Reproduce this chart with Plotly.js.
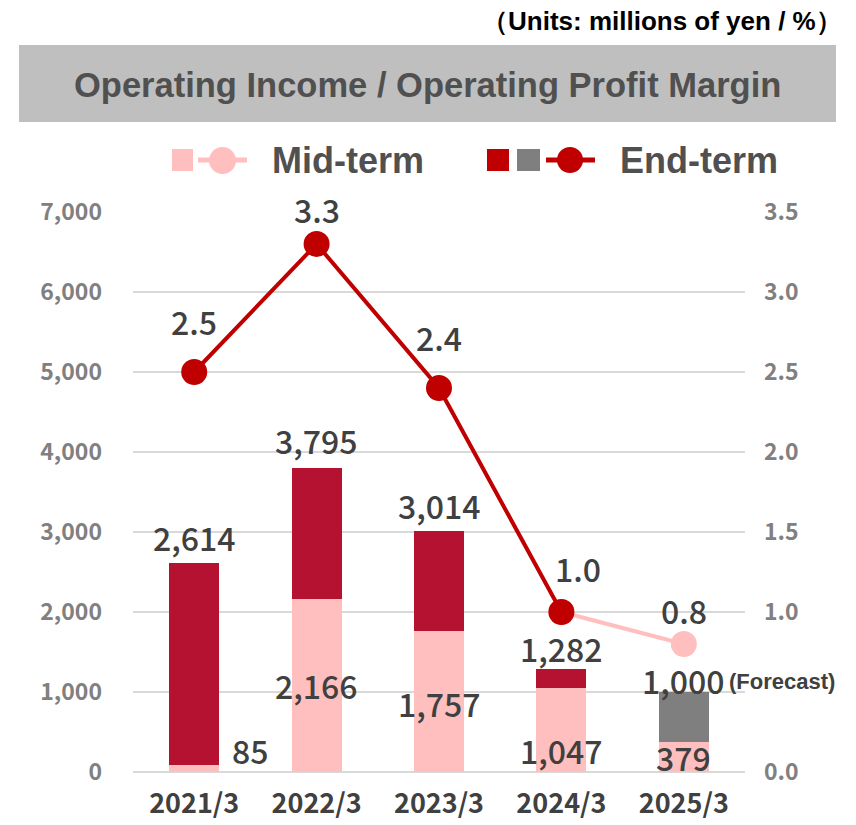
<!DOCTYPE html>
<html>
<head>
<meta charset="utf-8">
<script src="https://cdn.plot.ly/plotly-3.0.1.min.js"></script>
<style>html,body{margin:0;padding:0;background:#fff;}#chart{width:856px;height:825px;}</style>
</head>
<body>
<div id="chart"></div>
<script>
// ---- data ----
const categories = ["2021/3", "2022/3", "2023/3", "2024/3", "2025/3"];
const midIncome = [85, 2166, 1757, 1047, 379];          // mid-term operating income
const totalIncome = [2614, 3795, 3014, 1282, 1000];     // end-term (full-year) operating income
const forecastFlag = [false, false, false, false, true];
const endMarginCats = ["2021/3", "2022/3", "2023/3", "2024/3"];
const endMargin = [2.5, 3.3, 2.4, 1.0];
const midMarginCats = ["2024/3", "2025/3"];
const midMargin = [1.0, 0.8];
const leftTicks = [0, 1000, 2000, 3000, 4000, 5000, 6000, 7000];
const rightTicks = [0, 1.0, 1.5, 2.0, 2.5, 3.0, 3.5];   // 0.5 is hidden behind the forecast note

// ---- layout helpers ----
const W = 856, H = 825, L = 133, R = 745, T = 212, B = 772;
const px = x => (x - L) / (R - L);
const py = y => (B - y) / (B - T);

const PINK = "#FFBFBF", CRIMSON = "#B51232", GREY = "#7F7F7F", RED = "#C00000";
const NUMFONT = "'Noto Sans CJK JP', 'Noto Sans', sans-serif";
const NARROW = "'Liberation Sans Narrow', 'Arial Narrow', 'Liberation Sans', sans-serif";
const labelFont = {family: NUMFONT, size: 32, color: "#404040", weight: 500};

const endPart = totalIncome.map((t, i) => forecastFlag[i] ? null : t - midIncome[i]);
const fcPart = totalIncome.map((t, i) => forecastFlag[i] ? t - midIncome[i] : null);

const traces = [
  {type: "bar", x: categories, y: midIncome, marker: {color: PINK}, width: 0.41, hoverinfo: "skip", showlegend: false},
  {type: "bar", x: categories, y: endPart, marker: {color: CRIMSON}, width: 0.41, hoverinfo: "skip", showlegend: false},
  {type: "bar", x: categories, y: fcPart, marker: {color: GREY}, width: 0.41, hoverinfo: "skip", showlegend: false},
  {type: "scatter", mode: "lines+markers", x: midMarginCats, y: midMargin, yaxis: "y2",
   line: {color: PINK, width: 4}, marker: {color: PINK, size: 26}, showlegend: false, cliponaxis: false},
  {type: "scatter", mode: "lines+markers", x: endMarginCats, y: endMargin, yaxis: "y2",
   line: {color: RED, width: 4}, marker: {color: RED, size: 26}, showlegend: false, cliponaxis: false}
];

const fmt = v => v.toLocaleString("en-US");
const ann = [];
// total labels above bars
const totShift = [26, 28, 26, 21, 12];
totalIncome.forEach((v, i) => {
  ann.push({xref: "x", yref: "y", x: categories[i], y: v, yshift: totShift[i], text: fmt(v),
            showarrow: false, font: labelFont, yanchor: "middle"});
});
ann.push({xref: "x", yref: "y", x: categories[4], y: totalIncome[4], yshift: 11, xshift: 43,
          text: "(Forecast)", showarrow: false, xanchor: "left", yanchor: "middle",
          font: {family: NARROW, size: 22, color: "#404040", weight: 700}});
// mid-term labels
const midPos = [
  {xs: 56, ys: 22, base: 0},
  {xs: 0, ys: -86, base: 1},
  {xs: 0, ys: -72, base: 1},
  {xs: 0, ys: 22, base: 0},
  {xs: 0, ys: 15, base: 0}
];
midIncome.forEach((v, i) => {
  const p = midPos[i];
  ann.push({xref: "x", yref: "y", x: categories[i], y: p.base ? v : 0, xshift: p.xs, yshift: p.ys,
            text: fmt(v), showarrow: false, font: labelFont, yanchor: "middle"});
});
// margin labels
const endShift = [{xs: 0, ys: 51}, {xs: 0, ys: 35}, {xs: 0, ys: 51}, {xs: 17, ys: 44}];
endMargin.forEach((v, i) => {
  ann.push({xref: "x", yref: "y2", x: endMarginCats[i], y: v, xshift: endShift[i].xs, yshift: endShift[i].ys,
            text: v.toFixed(1), showarrow: false, font: labelFont, yanchor: "middle"});
});
ann.push({xref: "x", yref: "y2", x: midMarginCats[1], y: midMargin[1], yshift: 34,
          text: midMargin[1].toFixed(1), showarrow: false, font: labelFont, yanchor: "middle"});

// title, units, legend
ann.push({xref: "paper", yref: "paper", x: px(844), y: py(21), xanchor: "right", yanchor: "middle",
          text: "（Units: millions of yen / %）", showarrow: false,
          font: {family: NARROW, size: 26, color: "#000000", weight: 700}});
ann.push({xref: "paper", yref: "paper", x: px(427), y: py(85), xanchor: "center", yanchor: "middle",
          text: "Operating Income / Operating Profit Margin", showarrow: false,
          font: {family: NARROW, size: 34.5, color: "#505050", weight: 700}});
ann.push({xref: "paper", yref: "paper", x: px(270), y: py(160), xanchor: "left", yanchor: "middle",
          text: "Mid-term", showarrow: false, font: {family: NARROW, size: 36, color: "#505050", weight: 700}});
ann.push({xref: "paper", yref: "paper", x: px(618), y: py(160), xanchor: "left", yanchor: "middle",
          text: "End-term", showarrow: false, font: {family: NARROW, size: 36, color: "#505050", weight: 700}});

const shapes = [
  {type: "rect", xref: "paper", yref: "paper", x0: px(19), x1: px(836), y0: py(45), y1: py(122),
   fillcolor: "#BFBFBF", line: {width: 0}, layer: "below"},
  // legend mid-term
  {type: "rect", xref: "paper", yref: "paper", x0: px(172), x1: px(193), y0: py(149), y1: py(171), fillcolor: PINK, line: {width: 0}},
  {type: "line", xref: "paper", yref: "paper", x0: px(198), x1: px(247), y0: py(160), y1: py(160), line: {color: PINK, width: 5}},
  {type: "circle", xref: "paper", yref: "paper", x0: px(209), x1: px(236), y0: py(147), y1: py(174), fillcolor: PINK, line: {width: 0}},
  // legend end-term
  {type: "rect", xref: "paper", yref: "paper", x0: px(487), x1: px(509), y0: py(149), y1: py(171), fillcolor: RED, line: {width: 0}},
  {type: "rect", xref: "paper", yref: "paper", x0: px(517), x1: px(540), y0: py(149), y1: py(171), fillcolor: GREY, line: {width: 0}},
  {type: "line", xref: "paper", yref: "paper", x0: px(546), x1: px(595), y0: py(160), y1: py(160), line: {color: RED, width: 5}},
  {type: "circle", xref: "paper", yref: "paper", x0: px(557), x1: px(583), y0: py(147), y1: py(173), fillcolor: RED, line: {width: 0}}
];

const layout = {
  width: W, height: H,
  margin: {l: L, r: W - R, t: T, b: H - B, pad: 0},
  paper_bgcolor: "#ffffff", plot_bgcolor: "#ffffff",
  barmode: "stack", bargap: 0.59,
  showlegend: false,
  xaxis: {type: "category", categoryorder: "array", categoryarray: categories, range: [-0.5, 4.5],
          showgrid: false, showline: false, zeroline: false, ticks: "",
          tickfont: {family: NUMFONT, size: 27, color: "#404040", weight: 700}, ticklabelstandoff: 13},
  yaxis: {range: [0, 7000], tickvals: leftTicks, ticktext: leftTicks.map(fmt), showgrid: true,
          gridcolor: "#D9D9D9", gridwidth: 2, zeroline: true, zerolinecolor: "#D9D9D9", zerolinewidth: 2,
          showline: false, ticks: "", ticklabelstandoff: 30,
          tickfont: {family: NUMFONT, size: 23, color: "#808080", weight: 700}, fixedrange: true},
  yaxis2: {range: [0, 3.5], overlaying: "y", side: "right", tickvals: rightTicks,
           ticktext: rightTicks.map(v => v.toFixed(1)), showgrid: false, zeroline: false, showline: false,
           ticks: "", ticklabelstandoff: 18,
           tickfont: {family: NUMFONT, size: 23, color: "#808080", weight: 700}},
  annotations: ann,
  shapes: shapes
};

Plotly.newPlot("chart", traces, layout, {staticPlot: true, displayModeBar: false});
</script>
</body>
</html>
